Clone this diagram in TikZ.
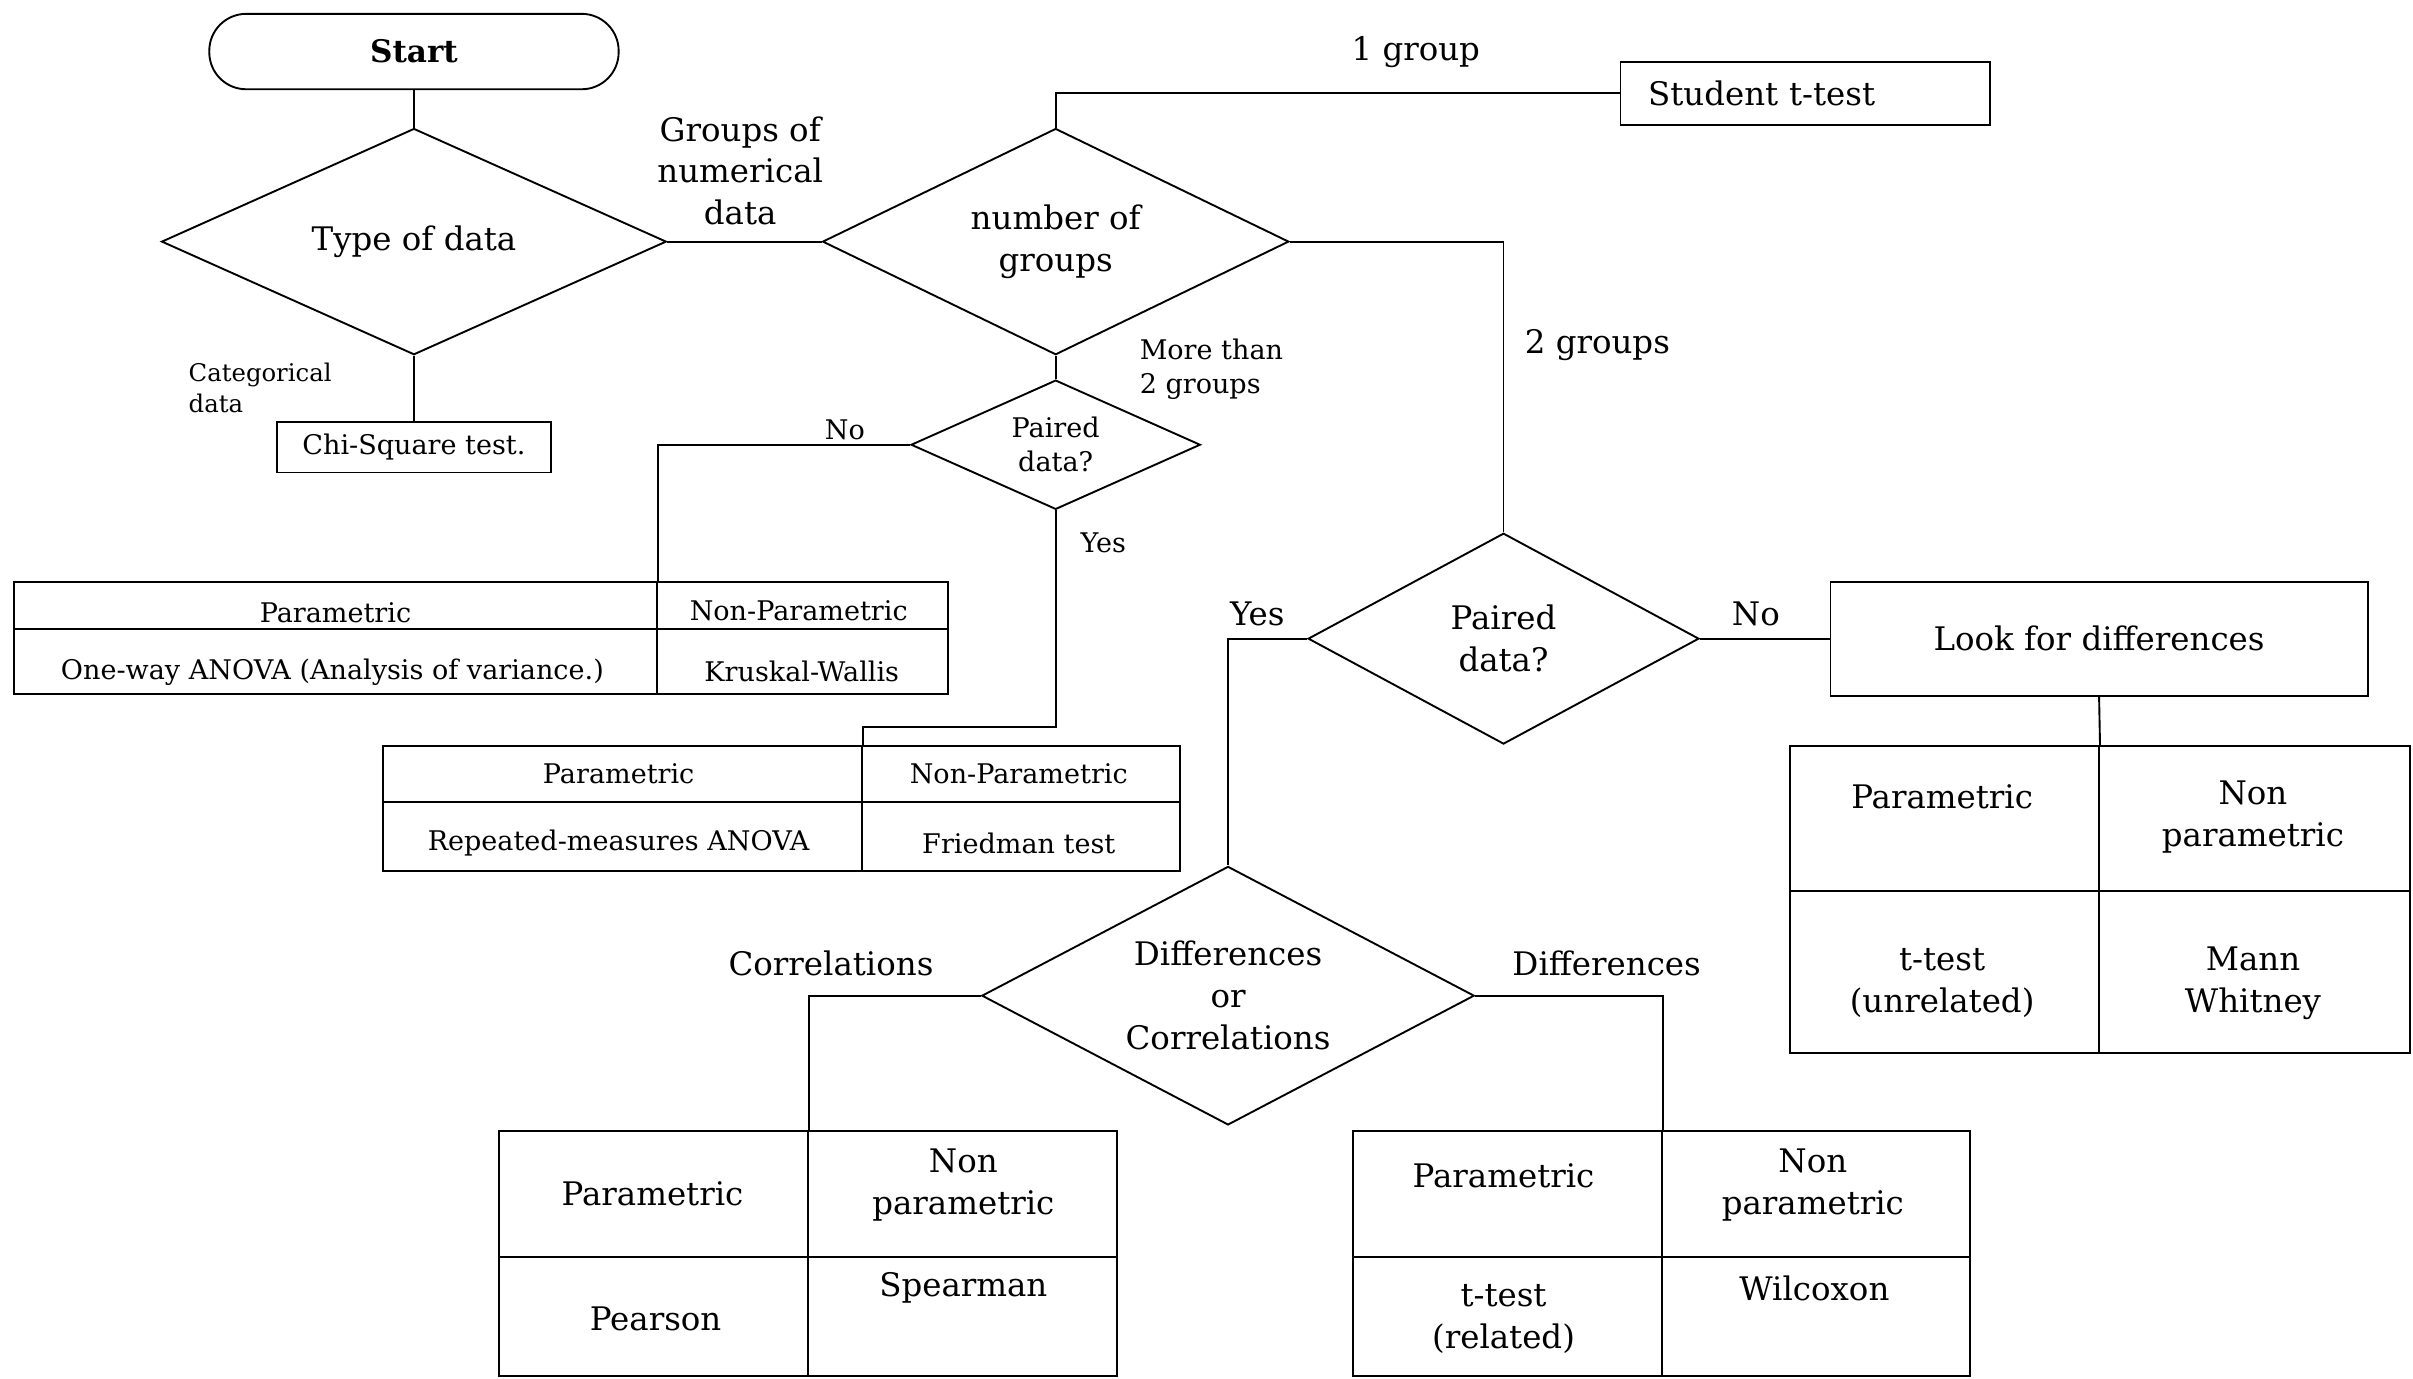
\documentclass[tikz,border=0pt]{standalone}
\usepackage{fontspec}
\setmainfont{DejaVu Serif}
\usepackage{tikz}
\usetikzlibrary{shapes.geometric}

\begin{document}
\begin{tikzpicture}[x=0.2mm,y=-0.2mm,line width=0.7pt]
                \tikzstyle{txt}=[font=\fontsize{12}{15.5}\selectfont,align=center,inner sep=0pt]
                \tikzstyle{small}=[font=\fontsize{10}{12.5}\selectfont,align=center,inner sep=0pt]
                \tikzstyle{decision}=[diamond,draw=black,shape aspect=2,txt]
                \tikzstyle{box}=[rectangle,draw=black,txt]
                \tikzstyle{cell}=[rectangle,draw=black,inner sep=0pt]
                \useasboundingbox (0,0) rectangle (1568,896);

                \node[box,rounded corners=4.8mm,minimum width=53.2mm,minimum height=9.8mm,font=\fontsize{11.5}{14}\selectfont\bfseries] (start) at (269,33.5) {Start};
                \node[decision,minimum width=65.6mm,minimum height=29.4mm] (type) at (269,157) {Type of data};
                \node[box,small,minimum width=35.6mm,minimum height=6.6mm] (chi) at (269,290.5) {Chi-Square test.};
                \node[decision,minimum width=60.6mm,minimum height=29.4mm] (groups) at (686,157) {number of\\groups};
                \node[box,minimum width=48mm,minimum height=8.2mm,text width=40.8mm,align=left,inner xsep=3.6mm] (student) at (1173,60.5) {Student t-test};
                \node[decision,small,minimum width=37.6mm,minimum height=16.8mm] (sp1) at (686,289) {Paired\\data?};
                \node[decision,minimum width=50.8mm,minimum height=27.4mm] (pd2) at (977,415) {Paired\\data?};
                \node[box,minimum width=69.8mm,minimum height=14.8mm] (look) at (1364,415) {Look for differences};
                \node[decision,minimum width=64mm,minimum height=33.6mm] (dc) at (798,647) {Differences\\or\\Correlations};

                \foreach \name/\x/\y/\w/\h in {t1a/218/393.5/83.6/6.2, t1b/521.5/393.5/37.8/6.2, t1c/218/430/83.6/8.4, t1d/521.5/430/37.8/8.4,
                                               t2a/404.5/503/62.2/7.2, t2b/663.5/503/41.4/7.2, t2c/404.5/543.5/62.2/9, t2d/663.5/543.5/41.4/9,
                                               t3a/1263.5/532/40.2/18.8, t3b/1465/532/40.4/18.8, t3c/1263.5/631.5/40.2/21, t3d/1465/631.5/40.4/21,
                                               t4a/424.5/776/40.2/16.4, t4b/625.5/776/40.2/16.4, t4c/424.5/855.5/40.2/15.4, t4d/625.5/855.5/40.2/15.4,
                                               t5a/979.5/776/40.2/16.4, t5b/1180/776/40/16.4, t5c/979.5/855.5/40.2/15.4, t5d/1180/855.5/40/15.4}
                    \node[cell,minimum width=\w mm,minimum height=\h mm] (\name) at (\x,\y) {};

                \foreach \name/\x/\y/\lbl in {t1a/218/398/Parametric, t1b/519/397/Non-Parametric, t1c/216/437/One-way ANOVA (Analysis of variance.), t1d/521/436/Kruskal-Wallis,
                                              t2a/402/503/Parametric, t2b/662/503/Non-Parametric, t2c/402/548/Repeated-measures ANOVA, t2d/662/548/Friedman test}
                    \node[small] (\name-txt) at (\x,\y) {\lbl};

                \foreach \name/\x/\y/\lbl in {t3a/1262/518/Parametric, t3b/1464/531/{Non\\parametric}, t3c/1262/639/{t-test\\(unrelated)}, t3d/1464/639/{Mann\\Whitney},
                                              t4a/424/776/Parametric, t4b/626/770/{Non\\parametric}, t4c/426/857/Pearson, t4d/626/837/Spearman,
                                              t5a/977/764/Parametric, t5b/1178/770/{Non\\parametric}, t5c/977/857/{t-test\\(related)}, t5d/1179/837/Wilcoxon}
                    \node[txt] (\name-txt) at (\x,\y) {\lbl};

                \node[small,font=\fontsize{9}{11.5}\selectfont,align=left,anchor=west] (catlbl) at (122,252) {Categorical\\data};
                \node[txt] (numlbl) at (481,111) {Groups of\\numerical\\data};
                \node[txt] (onelbl) at (920,34) {1 group};
                \node[txt] (twolbl) at (1038,224) {2 groups};
                \node[small,align=left,anchor=west] (morelbl) at (740,240) {More than\\2 groups};
                \node[small] (nolbl) at (549,279) {No};
                \node[small] (yeslbl) at (717,353) {Yes};
                \node[txt] (yes2lbl) at (817,399) {Yes};
                \node[txt] (no2lbl) at (1141,399) {No};
                \node[txt] (corlbl) at (540,626) {Correlations};
                \node[txt] (diflbl) at (1044,626) {Differences};

                \draw (start) -- (type);
                \draw (type) -- (chi);
                \draw (type) -- (groups);
                \draw (groups.north) |- (student.west);
                \draw (groups.east) -| (pd2.north);
                \draw (groups) -- (sp1);
                \draw (sp1.west) -| (t1a.north east);
                \draw (sp1.south) -- ++(0,141) -| (t2a.north east);
                \draw (pd2.west) -| (dc.north);
                \draw (pd2) -- (look);
                \draw (look.south) -- (t3a.north east);
                \draw (dc.west) -| (t4a.north east);
                \draw (dc.east) -| (t5a.north east);
            \end{tikzpicture}
\end{document}
